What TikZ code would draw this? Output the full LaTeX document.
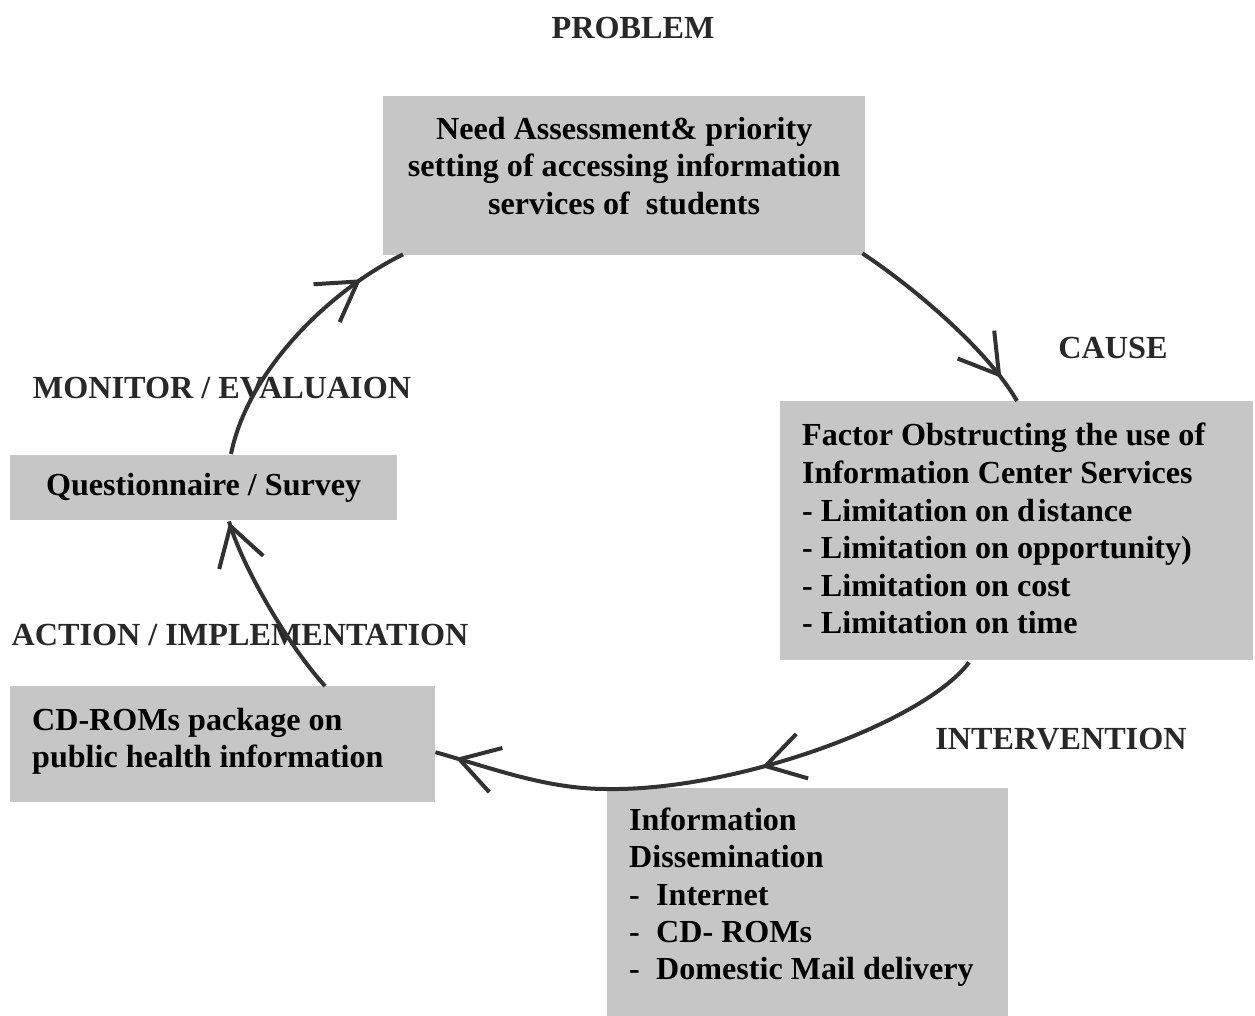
\documentclass[tikz,border=0pt]{standalone}
\usepackage{fontspec}
\setmainfont{Liberation Serif}
\usetikzlibrary{arrows.meta,decorations.markings,calc}
\definecolor{boxgray}{RGB}{198,198,198}
\definecolor{curvegray}{RGB}{50,50,50}
\definecolor{headgray}{RGB}{40,40,40}
\newcommand{\chevtip}{Straight Barb[length=38pt,width=46pt]}
\newcommand{\liftl}[3]{\raisebox{#1}[\height][\depth]{\parbox{#2}{\raggedright #3}}}
\newcommand{\liftc}[3]{\raisebox{#1}[\height][\depth]{\parbox{#2}{\centering #3}}}
\tikzset{
  box/.style={fill=boxgray, draw=none, anchor=north west, inner ysep=0pt,
    font=\fontsize{32.1}{37.6}\selectfont\bfseries, text=black},
  lbox/.style={box, inner xsep=22pt},
  cbox/.style={box, inner xsep=8pt},
  head/.style={anchor=base, font=\fontsize{32.2}{38}\selectfont\bfseries, text=headgray, inner sep=0pt},
  cyc/.style={draw=curvegray, line width=4pt},
  mk/.style={postaction={decorate}, decoration={markings, mark=at position #1 with {\arrow[line width=4pt]{\chevtip}}}}
}
\begin{document}
\begin{tikzpicture}[x=1pt,y=-1pt]
\useasboundingbox (0,0) rectangle (1255,1016);
% boxes
\node[cbox, minimum width=482pt, minimum height=159pt] (need) at (383,96)
  {\liftc{10pt}{466pt}{Need Assessment\& priority\\ setting of accessing information\\ services of\ \ students}};
\node[lbox, minimum width=473pt, minimum height=259pt] (factor) at (780,401)
  {\liftl{2pt}{429pt}{Factor Obstructing the use of\\ Information Center Services\\ - Limitation on d\hspace{3pt}istance\\ - Limitation on opportunity)\\ - Limitation on cost\\ - Limitation on time}};
\node[cbox, minimum width=387pt, minimum height=65pt] (quest) at (10,455)
  {\liftc{0pt}{371pt}{Questionnaire / Survey}};
\node[lbox, minimum width=425pt, minimum height=116pt] (cdrom) at (10,686)
  {\liftl{3pt}{381pt}{CD-ROMs package on\\ public health information}};
\node[lbox, minimum width=401pt, minimum height=228pt, font=\fontsize{32.1}{37.3}\selectfont\bfseries] (info) at (607,788)
  {\liftl{5pt}{357pt}{Information\\ Dissemination\\ \makebox[27pt][l]{-}Internet\\ \makebox[27pt][l]{-}CD- ROMs\\ \makebox[27pt][l]{-}Domestic Mail delivery}};
% headings
\node[head] (problem) at (633,39) {PROBLEM};
\node[head] (cause) at (1113,358) {CAUSE};
\node[head] (monitor) at (222,398) {MONITOR / EVALUAION};
\node[head] (action) at (240,645) {ACTION / IMPLEMENTATION};
\node[head] (interv) at (1061,749) {INTERVENTION};
% cycle connectors
\draw[cyc, mk=0.87] ($(need.south east)+(-3,-2)$) .. controls +(50,33) and +(-30,-52) .. ($(factor.north west)+(237,0)$);
\draw[cyc, mk=0.6] ($(factor.south west)+(189,2)$) .. controls +(-45,60) and +(130,2) .. ($(info.north west)+(0,1)$);
\draw[cyc, mk=0.88] ($(info.north west)+(0,1)$) .. controls +(-60,0) and +(60,17) .. ($(cdrom.east)+(0,8)$);
\draw[cyc, mk=0.995] ($(cdrom.north west)+(315,0)$) .. controls +(-34,-37) and +(14,48) .. ($(quest.south west)+(219,1)$);
\draw[cyc, mk=0.82] ($(quest.north west)+(221,-1)$) .. controls +(17,-84) and +(-73,36) .. ($(need.south west)+(20,-1)$);
\end{tikzpicture}
\end{document}
